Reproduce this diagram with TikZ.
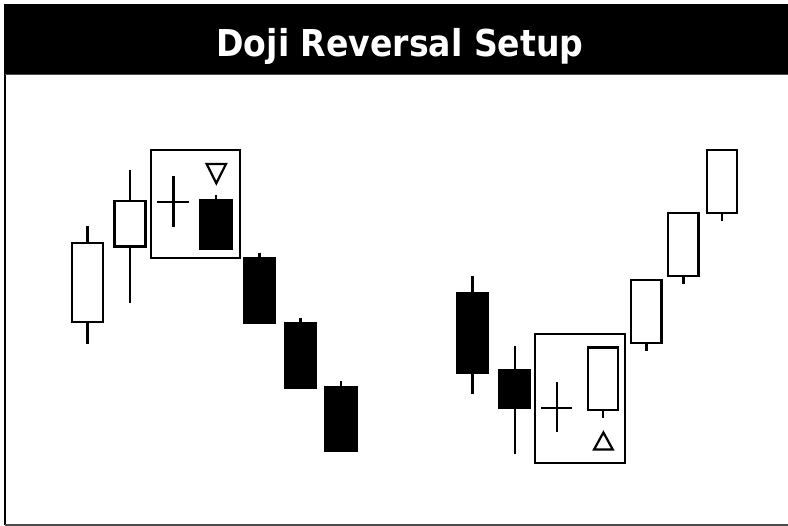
\documentclass[tikz,border=0pt]{standalone}
\usepackage{fontspec}
\setmainfont{DejaVu Sans}

\begin{document}
\begin{tikzpicture}[
            x = 1pt, y = -1pt,
            every node/.style={inner sep=0pt, outer sep=0pt},
            wick/.style={line width = 2.4pt},
            bull/.style={line width = 2.4pt, fill=white},
            bear/.style={line width = 2.4pt, fill=black},
            zone/.style={line width = 1.8pt},
            signal/.style={line width = 2.2pt, line join=miter},
            ]
        \useasboundingbox (0,0) rectangle (788,526);
        % frame and title bar
        \fill (4,4) rectangle (789,75);
        \draw[line width = 1pt, gray!60!black] (5,75) -- (789,75);
        \draw[line width = 2pt] (5,75) -- (5,525);
        \draw[line width = 1.5pt, gray!60!black] (5,524.8) -- (789,524.8);
        \node[text=white, font=\bfseries\fontsize{37}{40}\selectfont, anchor=base, xscale=0.895] (title) at (400,56.7) {Doji Reversal Setup};
        % left: rising candles then doji top
        \foreach \x/\t/\b/\h/\l in {87.5/243.3/322.3/226/344.3, 130/201/246.7/170/303.3} {
            \draw[wick] (\x,\h) -- (\x,\l);
            \draw[bull] (\x-15.5,\t) rectangle (\x+15.5,\b);
        }
        \foreach \x/\t/\b/\h in {216/200/249.3/195.3, 259.5/258.3/322.7/252.7, 300.5/323.7/388.3/318, 341/387/451/381} {
            \draw[wick] (\x,\h) -- (\x,\t);
            \draw[bear] (\x-15.5,\t) rectangle (\x+15.5,\b);
        }
        \draw[zone] (151,150.3) rectangle (240,258.3);
        \draw[wick] (157.3,202) -- (188.7,202) (173.3,176) -- (173.3,226.7);
        \draw[signal] (206.7,164) -- (226,164) -- (216.3,183.3) -- cycle;
        % right: falling candles then doji bottom
        \foreach \x/\t/\b/\h/\l in {472.5/293/372.7/276/394.3, 514.7/370.3/408.3/346/454.3} {
            \draw[wick] (\x,\h) -- (\x,\l);
            \draw[bear] (\x-15.5,\t) rectangle (\x+15.5,\b);
        }
        \foreach \x/\t/\b/\l in {603/347.7/410.3/418.3, 646.3/280.3/343.3/351.3, 683.3/213/276.3/284, 722/150/213/220.7} {
            \draw[wick] (\x,\b) -- (\x,\l);
            \draw[bull] (\x-15.2,\t) rectangle (\x+15.2,\b);
        }
        \draw[zone] (535.3,334) rectangle (625.3,463.3);
        \draw[wick] (541.3,408) -- (572,408) (557,382.3) -- (557,432.3);
        \draw[signal] (594,449.6) -- (612.8,449.6) -- (603.4,432.5) -- cycle;
    \end{tikzpicture}
\end{document}
